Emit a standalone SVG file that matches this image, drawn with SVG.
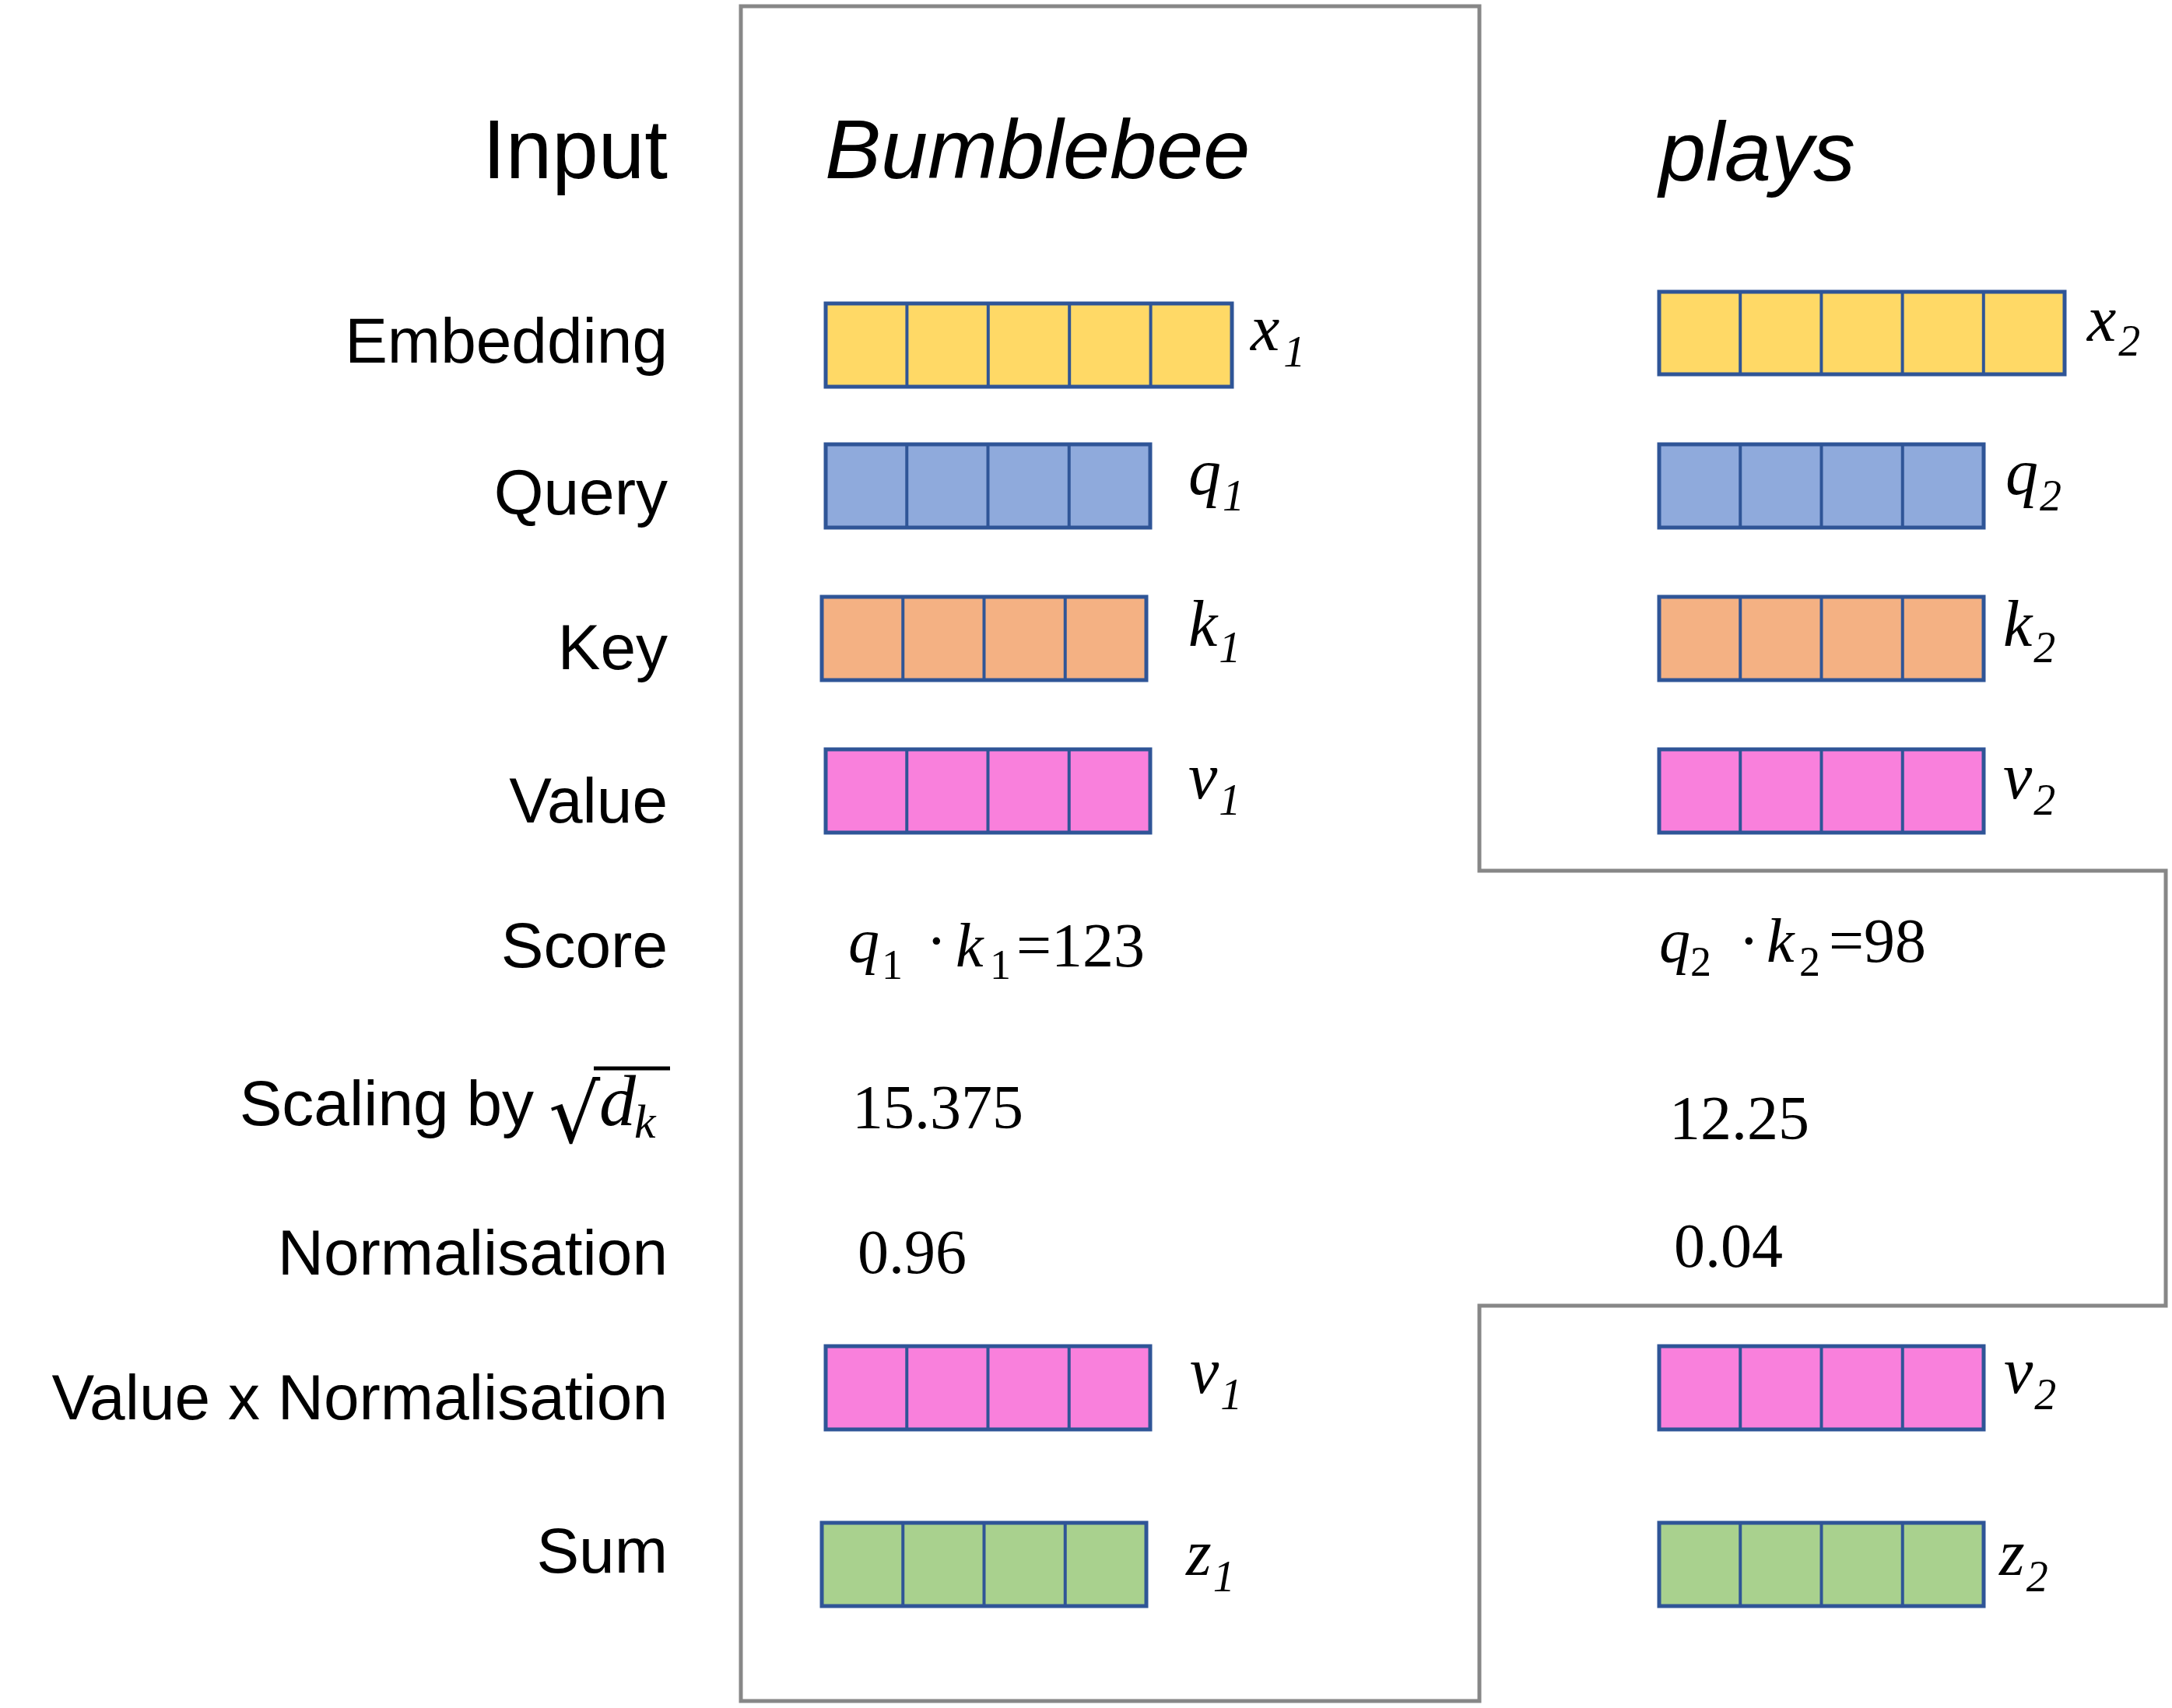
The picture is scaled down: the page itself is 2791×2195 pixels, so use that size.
<svg xmlns="http://www.w3.org/2000/svg" width="2791" height="2195" viewBox="0 0 2791 2195">
<style>
.lbl{font-family:"Liberation Sans",Arial,sans-serif;font-size:82px;fill:#000;text-anchor:end}
.title{font-family:"Liberation Sans",Arial,sans-serif;font-size:108px;font-style:italic;fill:#000}
.var{font-family:"Liberation Serif","Times New Roman",serif;font-size:84px;font-style:italic;fill:#000}
.sub{font-size:56px}
.num{font-family:"Liberation Serif","Times New Roman",serif;font-size:80px;fill:#000}
.it{font-style:italic}
.cell{stroke:#2F5597;stroke-width:5}
.div{stroke:#2F5597;stroke-width:4}
.y{fill:#FFD966}.b{fill:#8FAADC}.o{fill:#F4B183}.p{fill:#F980DC}.g{fill:#A9D18E}
.frame{fill:none;stroke:#878787;stroke-width:5}
</style>

<g id="connectors">
<path class="frame" d="M952 2186 L952 8 L1901 8 L1901 1119 L2783 1119 L2783 1678 L1901 1678 L1901 2186 Z"/>
</g>

<g id="row-labels">
<text class="lbl" x="858" y="229" style="font-size:107px">Input</text>
<text class="lbl" x="858" y="466">Embedding</text>
<text class="lbl" x="858" y="661">Query</text>
<text class="lbl" x="858" y="860">Key</text>
<text class="lbl" x="858" y="1057">Value</text>
<text class="lbl" x="858" y="1243">Score</text>
<g id="scaling-label">
<text class="lbl" x="686" y="1446">Scaling by</text>
<text x="705" y="1468" font-family="DejaVu Serif,serif" font-size="104" fill="#000">√</text>
<line x1="763" y1="1373" x2="861" y2="1373" stroke="#000" stroke-width="5"/>
<text class="var" x="770" y="1446" style="font-size:94px">d<tspan class="sub" dx="-2" dy="16" style="font-size:62px">k</tspan></text>
</g>
<text class="lbl" x="858" y="1638">Normalisation</text>
<text class="lbl" x="858" y="1824">Value x Normalisation</text>
<text class="lbl" x="858" y="2021">Sum</text>
</g>

<g id="title-bumblebee"><text class="title" x="1060" y="229">Bumblebee</text></g>
<g id="title-plays"><text class="title" x="2132" y="232">plays</text></g>

<!-- Column 1 -->
<g id="x1">
<rect class="cell y" x="1061" y="390" width="522" height="107"/>
<line class="div" x1="1165.4" y1="390" x2="1165.4" y2="497"/>
<line class="div" x1="1269.8" y1="390" x2="1269.8" y2="497"/>
<line class="div" x1="1374.2" y1="390" x2="1374.2" y2="497"/>
<line class="div" x1="1478.6" y1="390" x2="1478.6" y2="497"/>
<text class="var" x="1607" y="450">x<tspan class="sub" dx="5" dy="21">1</tspan></text>
</g>
<g id="q1">
<rect class="cell b" x="1061" y="571" width="417" height="107"/>
<line class="div" x1="1165.25" y1="571" x2="1165.25" y2="678"/>
<line class="div" x1="1269.5" y1="571" x2="1269.5" y2="678"/>
<line class="div" x1="1373.75" y1="571" x2="1373.75" y2="678"/>
<text class="var" x="1527" y="635">q<tspan class="sub" dx="2" dy="21">1</tspan></text>
</g>
<g id="k1">
<rect class="cell o" x="1056" y="767" width="417" height="107"/>
<line class="div" x1="1160.25" y1="767" x2="1160.25" y2="874"/>
<line class="div" x1="1264.5" y1="767" x2="1264.5" y2="874"/>
<line class="div" x1="1368.75" y1="767" x2="1368.75" y2="874"/>
<text class="var" x="1527" y="830">k<tspan class="sub" dx="2" dy="21">1</tspan></text>
</g>
<g id="v1">
<rect class="cell p" x="1061" y="963" width="417" height="107"/>
<line class="div" x1="1165.25" y1="963" x2="1165.25" y2="1070"/>
<line class="div" x1="1269.5" y1="963" x2="1269.5" y2="1070"/>
<line class="div" x1="1373.75" y1="963" x2="1373.75" y2="1070"/>
<text class="var" x="1527" y="1026">v<tspan class="sub" dx="2" dy="21">1</tspan></text>
</g>
<g id="score1">
<text class="num" x="1090" y="1236"><tspan class="it">q</tspan></text>
<text class="num" x="1133" y="1258" style="font-size:54px">1</text>
<text class="num" x="1190" y="1236">·</text>
<text class="num" x="1228" y="1242"><tspan class="it">k</tspan></text>
<text class="num" x="1272" y="1258" style="font-size:54px">1</text>
<text class="num" x="1306" y="1242">=123</text>
</g>
<g id="scale1"><text class="num" x="1095" y="1450">15.375</text></g>
<g id="norm1"><text class="num" x="1102" y="1636">0.96</text></g>
<g id="vn1">
<rect class="cell p" x="1061" y="1730" width="417" height="107"/>
<line class="div" x1="1165.25" y1="1730" x2="1165.25" y2="1837"/>
<line class="div" x1="1269.5" y1="1730" x2="1269.5" y2="1837"/>
<line class="div" x1="1373.75" y1="1730" x2="1373.75" y2="1837"/>
<text class="var" x="1529" y="1790">v<tspan class="sub" dx="2" dy="21">1</tspan></text>
</g>
<g id="z1">
<rect class="cell g" x="1056" y="1957" width="417" height="107"/>
<line class="div" x1="1160.25" y1="1957" x2="1160.25" y2="2064"/>
<line class="div" x1="1264.5" y1="1957" x2="1264.5" y2="2064"/>
<line class="div" x1="1368.75" y1="1957" x2="1368.75" y2="2064"/>
<text class="var" x="1524" y="2024">z<tspan class="sub" dx="2" dy="21">1</tspan></text>
</g>

<!-- Column 2 -->
<g id="x2">
<rect class="cell y" x="2132" y="375" width="521" height="106"/>
<line class="div" x1="2236.2" y1="375" x2="2236.2" y2="481"/>
<line class="div" x1="2340.4" y1="375" x2="2340.4" y2="481"/>
<line class="div" x1="2444.6" y1="375" x2="2444.6" y2="481"/>
<line class="div" x1="2548.8" y1="375" x2="2548.8" y2="481"/>
<text class="var" x="2682" y="438">x<tspan class="sub" dx="3" dy="19">2</tspan></text>
</g>
<g id="q2">
<rect class="cell b" x="2132" y="571" width="417" height="107"/>
<line class="div" x1="2236.25" y1="571" x2="2236.25" y2="678"/>
<line class="div" x1="2340.5" y1="571" x2="2340.5" y2="678"/>
<line class="div" x1="2444.75" y1="571" x2="2444.75" y2="678"/>
<text class="var" x="2577" y="635">q<tspan class="sub" dx="2" dy="21">2</tspan></text>
</g>
<g id="k2">
<rect class="cell o" x="2132" y="767" width="417" height="107"/>
<line class="div" x1="2236.25" y1="767" x2="2236.25" y2="874"/>
<line class="div" x1="2340.5" y1="767" x2="2340.5" y2="874"/>
<line class="div" x1="2444.75" y1="767" x2="2444.75" y2="874"/>
<text class="var" x="2574" y="830">k<tspan class="sub" dx="2" dy="21">2</tspan></text>
</g>
<g id="v2">
<rect class="cell p" x="2132" y="963" width="417" height="107"/>
<line class="div" x1="2236.25" y1="963" x2="2236.25" y2="1070"/>
<line class="div" x1="2340.5" y1="963" x2="2340.5" y2="1070"/>
<line class="div" x1="2444.75" y1="963" x2="2444.75" y2="1070"/>
<text class="var" x="2574" y="1026">v<tspan class="sub" dx="2" dy="21">2</tspan></text>
</g>
<g id="score2">
<text class="num" x="2132" y="1236"><tspan class="it">q</tspan></text>
<text class="num" x="2172" y="1254" style="font-size:54px">2</text>
<text class="num" x="2234" y="1236">·</text>
<text class="num" x="2270" y="1236"><tspan class="it">k</tspan></text>
<text class="num" x="2312" y="1254" style="font-size:54px">2</text>
<text class="num" x="2350" y="1236">=98</text>
</g>
<g id="scale2"><text class="num" x="2145" y="1464">12.25</text></g>
<g id="norm2"><text class="num" x="2151" y="1628">0.04</text></g>
<g id="vn2">
<rect class="cell p" x="2132" y="1730" width="417" height="107"/>
<line class="div" x1="2236.25" y1="1730" x2="2236.25" y2="1837"/>
<line class="div" x1="2340.5" y1="1730" x2="2340.5" y2="1837"/>
<line class="div" x1="2444.75" y1="1730" x2="2444.75" y2="1837"/>
<text class="var" x="2575" y="1790">v<tspan class="sub" dx="2" dy="21">2</tspan></text>
</g>
<g id="z2">
<rect class="cell g" x="2132" y="1957" width="417" height="107"/>
<line class="div" x1="2236.25" y1="1957" x2="2236.25" y2="2064"/>
<line class="div" x1="2340.5" y1="1957" x2="2340.5" y2="2064"/>
<line class="div" x1="2444.75" y1="1957" x2="2444.75" y2="2064"/>
<text class="var" x="2569" y="2024">z<tspan class="sub" dx="2" dy="21">2</tspan></text>
</g>
</svg>
